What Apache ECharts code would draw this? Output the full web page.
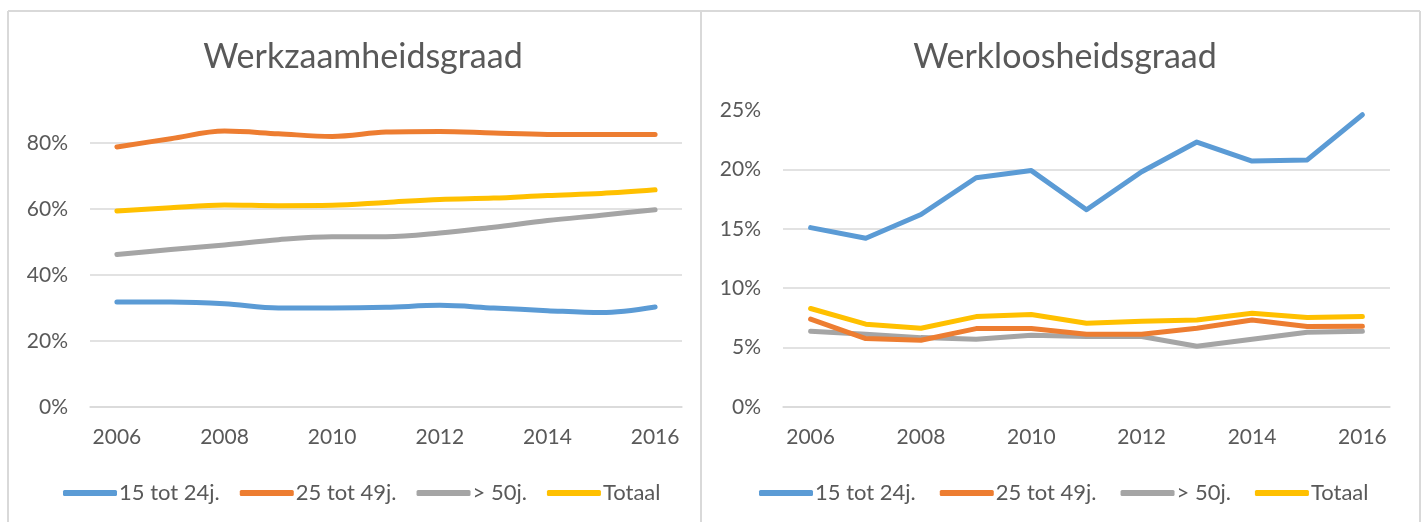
<!DOCTYPE html>
<html>
<head>
<meta charset="utf-8">
<script src="https://cdn.jsdelivr.net/npm/echarts@6/dist/echarts.min.js"></script>
<style>
html,body{margin:0;padding:0;background:#fff;}
#c{width:1426px;height:522px;}
</style>
</head>
<body>
<div id="c"></div>
<script>
var years = ['2006','2007','2008','2009','2010','2011','2012','2013','2014','2015','2016'];
var seriesNames = ['15 tot 24j.', '25 tot 49j.', '> 50j.', 'Totaal'];
var colors = ['#5B9BD5', '#ED7D31', '#A5A5A5', '#FFC000'];

// Werkzaamheidsgraad (employment rate)
var werk15_24 = [0.318, 0.318, 0.313, 0.300, 0.300, 0.302, 0.308, 0.300, 0.292, 0.286, 0.303];
var werk25_49 = [0.788, 0.813, 0.836, 0.828, 0.820, 0.833, 0.835, 0.830, 0.826, 0.826, 0.826];
var werk50 = [0.462, 0.477, 0.491, 0.507, 0.516, 0.516, 0.527, 0.545, 0.565, 0.581, 0.598];
var werkTot = [0.594, 0.604, 0.612, 0.610, 0.611, 0.620, 0.629, 0.633, 0.641, 0.647, 0.658];

// Werkloosheidsgraad (unemployment rate)
var wl15_24 = [0.151, 0.142, 0.162, 0.193, 0.199, 0.166, 0.198, 0.223, 0.207, 0.208, 0.246];
var wl25_49 = [0.074, 0.0576, 0.0562, 0.066, 0.066, 0.0612, 0.0612, 0.0663, 0.0733, 0.0677, 0.068];
var wl50 = [0.0638, 0.0612, 0.0584, 0.057, 0.0604, 0.0593, 0.0593, 0.0511, 0.057, 0.0629, 0.0638];
var wlTot = [0.0829, 0.0697, 0.0663, 0.0761, 0.0778, 0.0705, 0.0722, 0.0733, 0.0789, 0.0753, 0.0761];

var leftData = [werk15_24, werk25_49, werk50, werkTot];
var rightData = [wl15_24, wl25_49, wl50, wlTot];

var txt = '#595959';
var grid = '#d9d9d9';
var fam = 'Lato';

function pct(v){ return Math.round(v*100) + '%'; }

function xAxis(gi){
  return {
    type: 'category', gridIndex: gi, data: years, boundaryGap: true,
    axisTick: {show: false},
    axisLine: {show: true, lineStyle: {color: grid, width: 1.5}},
    axisLabel: {interval: 1, color: txt, fontFamily: fam, fontSize: 21, margin: 20}
  };
}
function yAxis(gi, max, interval){
  return {
    type: 'value', gridIndex: gi, min: 0, max: max, interval: interval,
    axisLine: {show: false}, axisTick: {show: false},
    splitLine: {show: true, showMaxLine: false, lineStyle: {color: grid, width: 1.5}},
    axisLabel: {color: txt, fontFamily: fam, fontSize: 21, margin: 22, showMaxLabel: max === 0.9 ? false : true,
      formatter: function(v){ return pct(v); }}
  };
}

var series = [];
seriesNames.forEach(function(n, i){
  series.push({
    name: n, type: 'line', xAxisIndex: 0, yAxisIndex: 0, data: leftData[i],
    symbol: 'none', smooth: 0.35, color: colors[i],
    lineStyle: {width: 5, cap: 'round', join: 'round', color: colors[i]}, z: 10 - i
  });
});
seriesNames.forEach(function(n, i){
  series.push({
    name: n, type: 'line', xAxisIndex: 1, yAxisIndex: 1, data: rightData[i],
    symbol: 'none', smooth: false, color: colors[i],
    lineStyle: {width: 5, cap: 'round', join: 'round', color: colors[i]}, z: 10 - i
  });
});

function legend(left, gap){
  return {
    left: left, top: 477, itemWidth: 54, itemHeight: 6, itemGap: gap,
    icon: 'roundRect', selectedMode: false,
    textStyle: {color: txt, fontFamily: fam, fontSize: 22, padding: [0,0,0,-3]},
    data: seriesNames.map(function(n, i){ return {name: n, itemStyle: {color: colors[i]}}; })
  };
}

var chart = echarts.init(document.getElementById('c'));
chart.setOption({
  animation: false,
  backgroundColor: '#fff',
  title: [
    {text: 'Werkzaamheidsgraad', left: 358, top: 35, textAlign: 'center',
      textStyle: {color: txt, fontFamily: fam, fontWeight: 'normal', fontSize: 34}},
    {text: 'Werkloosheidsgraad', left: 1060, top: 35, textAlign: 'center',
      textStyle: {color: txt, fontFamily: fam, fontWeight: 'normal', fontSize: 34}}
  ],
  grid: [
    {left: 90, right: 744, top: 110, bottom: 115},
    {left: 783, right: 36, top: 110, bottom: 115}
  ],
  xAxis: [xAxis(0), xAxis(1)],
  yAxis: [yAxis(0, 0.9, 0.2), yAxis(1, 0.25, 0.05)],
  legend: [legend(58, 20), legend(754, 24)],
  series: series,
  graphic: [
    {type: 'line', shape: {x1: 8, y1: 11, x2: 1420, y2: 11}, style: {stroke: grid, lineWidth: 2}},
    {type: 'line', shape: {x1: 8, y1: 11, x2: 8, y2: 522}, style: {stroke: grid, lineWidth: 2}},
    {type: 'line', shape: {x1: 701, y1: 11, x2: 701, y2: 522}, style: {stroke: grid, lineWidth: 2}},
    {type: 'line', shape: {x1: 1420, y1: 11, x2: 1420, y2: 522}, style: {stroke: grid, lineWidth: 2}}
  ]
});
</script>
</body>
</html>
